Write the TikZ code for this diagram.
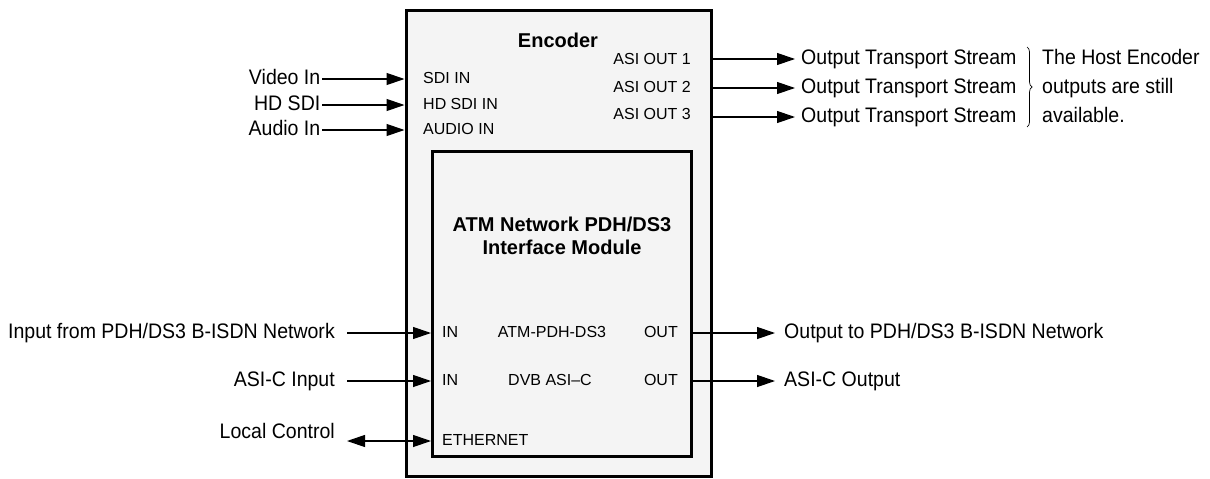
\documentclass[tikz,border=0pt]{standalone}
\usepackage{fontspec}
\setmainfont{Liberation Sans}
\newfontfamily\nar{Liberation Sans}[FakeStretch=0.93]
\usetikzlibrary{arrows.meta,decorations.pathreplacing}
\definecolor{boxfill}{HTML}{F4F4F4}
\tikzset{
  box/.style={draw, line width=3pt, fill=boxfill, rectangle, inner sep=0pt},
  ext/.style={font=\nar\fontsize{21}{25}\selectfont, inner ysep=0pt, text height=15pt, text depth=4pt},
  port/.style={font=\fontsize{16}{19}\selectfont, inner sep=0pt, text height=11.5pt, text depth=3.4pt},
  ttl/.style={font=\bfseries\fontsize{20}{23}\selectfont, inner sep=0pt, align=center},
  arr/.style={line width=1.2pt, -{Triangle[length=18pt,width=12pt]}},
  dblarr/.style={line width=1.2pt, {Triangle[length=18pt,width=12pt]}-{Triangle[length=18pt,width=12pt]}},
  bracestyle/.style={decorate, decoration={brace, amplitude=5pt}, line width=0.7pt},
}
\begin{document}
\begin{tikzpicture}[x=1pt,y=-1pt]
\useasboundingbox (0,0) rectangle (1210,479);
% boxes
\node[box, minimum width=305pt, minimum height=466pt] (outer) at (558.5,243) {};
\node[box, minimum width=259pt, minimum height=305pt] (inner) at (562,304) {};
% encoder labels
\node[ttl] (enc) at (558,40) {Encoder};
\node[port, anchor=west] (sdi) at (423,79) {SDI IN};
\node[port, anchor=west] (hdsdi) at (423,105) {HD SDI IN};
\node[port, anchor=west] (audio) at (423,130) {AUDIO IN};
\node[port, anchor=east] (aso1) at (691,60) {ASI OUT 1};
\node[port, anchor=east] (aso2) at (691,88) {ASI OUT 2};
\node[port, anchor=east] (aso3) at (691,115) {ASI OUT 3};
% left inputs
\node[ext, anchor=east, inner xsep=1.5pt] (vin) at (322,79) {Video In};
\node[ext, anchor=east, inner xsep=1.5pt] (hd) at (322,105) {HD SDI};
\node[ext, anchor=east, inner xsep=1.5pt] (ain) at (322,130) {Audio In};
\draw[arr] (vin.east) -- (vin.east -| outer.west);
\draw[arr] (hd.east) -- (hd.east -| outer.west);
\draw[arr] (ain.east) -- (ain.east -| outer.west);
% right outputs
\node[ext, anchor=west, inner xsep=6pt] (ots1) at (795,59) {Output Transport Stream};
\node[ext, anchor=west, inner xsep=6pt] (ots2) at (795,88) {Output Transport Stream};
\node[ext, anchor=west, inner xsep=6pt] (ots3) at (795,117) {Output Transport Stream};
\draw[arr] (ots1.west -| outer.east) -- (ots1.west);
\draw[arr] (ots2.west -| outer.east) -- (ots2.west);
\draw[arr] (ots3.west -| outer.east) -- (ots3.west);
\draw[bracestyle] (1027,47) -- (1027,127);
\node[ext, anchor=west, inner xsep=0pt] (note1) at (1042,59) {The Host Encoder};
\node[ext, anchor=west, inner xsep=0pt] (note2) at (1042,88) {outputs are still};
\node[ext, anchor=west, inner xsep=0pt] (note3) at (1042,117) {available.};
% module
\node[ttl] (atmt) at (562,236) {ATM Network PDH/DS3\\Interface Module};
\node[port, anchor=west] (in1) at (442,333) {IN};
\node[port] (atm) at (552,333) {ATM-PDH-DS3};
\node[port, anchor=east] (out1) at (678,333) {OUT};
\node[port, anchor=west] (in2) at (442,381) {IN};
\node[port] (dvb) at (550,381) {DVB ASI–C};
\node[port, anchor=east] (out2) at (678,381) {OUT};
\node[port, anchor=west] (eth) at (442,441) {ETHERNET};
% bottom inputs
\node[ext, anchor=east, inner xsep=12pt] (inpdh) at (347,333) {Input from PDH/DS3 B-ISDN Network};
\node[ext, anchor=east, inner xsep=12pt] (asiin) at (347,381) {ASI-C Input};
\node[ext, anchor=east, inner xsep=12pt] (lc) at (347,433) {Local Control};
\draw[arr] (inpdh.east) -- (inpdh.east -| inner.west);
\draw[arr] (asiin.east) -- (asiin.east -| inner.west);
\draw[dblarr] (lc.east |- eth.west) -- (eth.west -| inner.west);
% bottom outputs
\node[ext, anchor=west, inner xsep=9pt] (opdh) at (775,333) {Output to PDH/DS3 B-ISDN Network};
\node[ext, anchor=west, inner xsep=9pt] (asiout) at (775,381) {ASI-C Output};
\draw[arr] (out1.east -| inner.east) -- (opdh.west);
\draw[arr] (out2.east -| inner.east) -- (asiout.west);
\end{tikzpicture}
\end{document}
